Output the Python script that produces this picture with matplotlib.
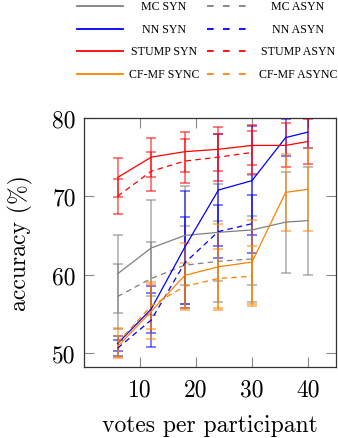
import matplotlib
matplotlib.use("Agg")
import matplotlib.pyplot as plt
from matplotlib.lines import Line2D

plt.rcParams['lines.scale_dashes'] = False
plt.rcParams['axes.formatter.use_mathtext'] = True

# ---------------- data ----------------
votes_syn = [6, 12, 18, 24, 30, 36, 40]
votes_asyn = [6, 12, 18, 24, 30]

mc_syn = [60.1, 63.4, 65.0, 65.4, 65.7, 66.7, 66.9]
mc_syn_err = [5.0, 6.1, 6.35, 6.2, 7.0, 6.45, 6.9]
mc_asyn = [57.2, 59.5, 61.2, 61.7, 62.0]
mc_asyn_err = [4.1, 4.7, 5.0, 5.2, 5.5]

nn_syn = [51.2, 55.6, 63.5, 70.8, 72.0, 77.5, 78.2]
nn_syn_err = [0.9, 3.0, 7.2, 7.1, 7.0, 2.4, 2.0]
nn_asyn = [50.6, 54.2, 61.5, 65.5, 66.5]
nn_asyn_err = [1.0, 3.5, 5.8, 3.4, 3.7]

stump_syn = [72.4, 75.0, 75.7, 76.0, 76.5, 76.5, 77.0]
stump_syn_err = [2.5, 2.5, 2.55, 2.8, 2.55, 2.8, 2.85]
stump_asyn = [70.0, 73.2, 74.5, 75.0, 75.6]
stump_asyn_err = [2.2, 2.5, 2.8, 3.0, 2.7]

cfmf_syn = [50.8, 55.3, 59.9, 61.0, 61.6, 70.5, 70.9]
cfmf_syn_err = [1.3, 3.5, 4.2, 5.5, 5.4, 4.9, 5.3]
cfmf_asyn = [51.3, 56.0, 58.5, 59.5, 59.8]
cfmf_asyn_err = [1.9, 3.0, 3.0, 3.8, 3.85]

labels_syn = ["MC SYN", "NN SYN", "STUMP SYN", "CF-MF SYNC"]
labels_asyn = ["MC ASYN", "NN ASYN", "STUMP ASYN", "CF-MF ASYNC"]
colors = ["#808080", "#0000ff", "#ff0000", "#ff8000"]

x_ticks = [10, 20, 30, 40]
y_ticks = [50, 60, 70, 80]

# ---------------- figure ----------------
W, H = 338, 439
fig = plt.figure(figsize=(W / 100, H / 100), dpi=100)
ax = fig.add_axes([84 / W, 1 - 368 / H, (336 - 84) / W, (368 - 119) / H])

dash = (4.0, 3.0)
syn_sets = [(mc_syn, mc_syn_err), (nn_syn, nn_syn_err),
            (stump_syn, stump_syn_err), (cfmf_syn, cfmf_syn_err)]
asyn_sets = [(mc_asyn, mc_asyn_err), (nn_asyn, nn_asyn_err),
             (stump_asyn, stump_asyn_err), (cfmf_asyn, cfmf_asyn_err)]

for (ys, es), (ya, ea), c in zip(syn_sets, asyn_sets, colors):
    ax.errorbar(votes_syn, ys, yerr=es, fmt='none', ecolor=c, alpha=0.65,
                elinewidth=1.1, capsize=3.6, capthick=1.1)
    ax.errorbar(votes_asyn, ya, yerr=ea, fmt='none', ecolor=c, alpha=0.65,
                elinewidth=1.1, capsize=3.6, capthick=1.1)
for (ys, es), (ya, ea), c in zip(syn_sets, asyn_sets, colors):
    ax.plot(votes_syn, ys, color=c, lw=0.9)
    ax.plot(votes_asyn, ya, color=c, lw=0.9, dashes=dash)

ax.set_xlim(0, 45)
ax.set_ylim(48.2, 80)
ax.set_xticks(x_ticks)
ax.set_yticks(y_ticks)

FS = 17
tick_font = dict(family='cmr10', size=FS)
ax.set_xticklabels([str(v) for v in x_ticks], **tick_font)
ax.set_yticklabels([str(v) for v in y_ticks], **tick_font)
ax.tick_params(direction='in', length=7.5, width=0.8, color='#888888',
               top=True, right=True)
ax.tick_params(axis='x', pad=8)
ax.tick_params(axis='y', pad=6)
for s in ax.spines.values():
    s.set_linewidth(0.9)
    s.set_color('#333333')

ax.set_xlabel("votes per participant", family='cmr10', size=FS, labelpad=10)
ax.set_ylabel("accuracy (%)", family='cmr10', size=FS, labelpad=14)

# ---------------- legend (drawn manually) ----------------
rows_y = [7, 30, 52, 75]
for ry, c, ls, la in zip(rows_y, colors, labels_syn, labels_asyn):
    fy = 1 - ry / H
    fig.add_artist(Line2D([77 / W, 123 / W], [fy, fy], color=c, lw=1.3,
                          transform=fig.transFigure))
    fig.add_artist(Line2D([207 / W, 248 / W], [fy, fy], color=c, lw=1.3,
                          dashes=(4.8, 6.7), transform=fig.transFigure))
    fig.text(164 / W, fy, ls, ha='center', va='center',
             family='Liberation Serif', size=8.6)
    fig.text(298 / W, fy, la, ha='center', va='center',
             family='Liberation Serif', size=8.6)

fig.savefig("out.png", dpi=100)
